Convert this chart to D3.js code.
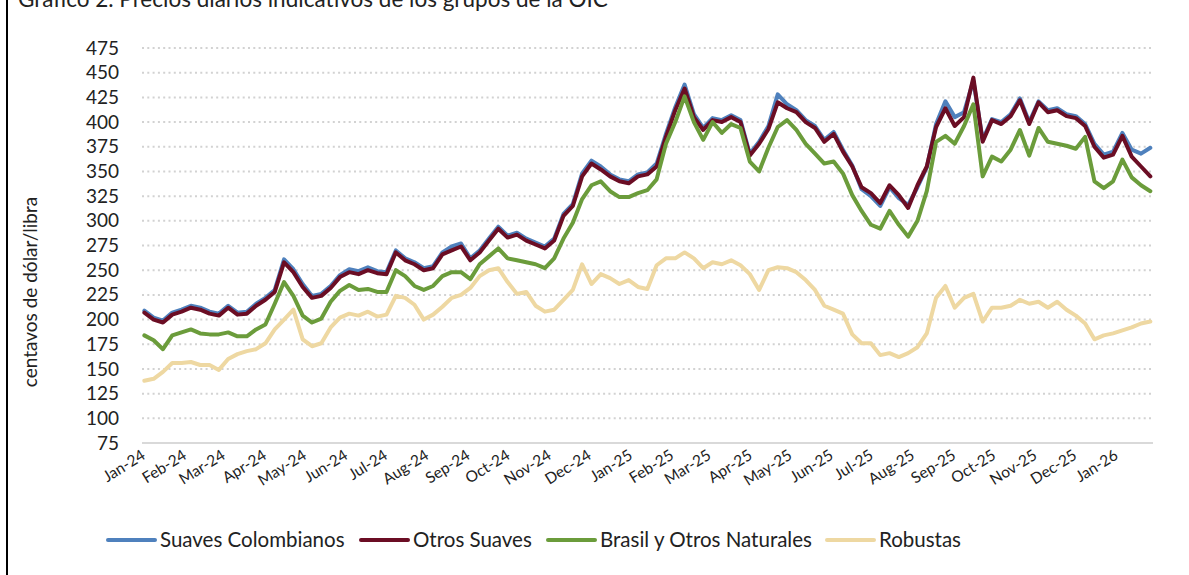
<!DOCTYPE html>
<html>
<head>
<meta charset="utf-8">
<script src="https://cdn.jsdelivr.net/npm/d3@7"></script>
<style>
  body { margin: 0; background: #fff; }
  svg { display: block; font-family: Lato, 'Open Sans', sans-serif; }
</style>
</head>
<body>
<svg id="canvas" width="1189" height="575"></svg>
<script>
// weekly readings, first one on Jan 2 2024
let startDate = '2024-01-02';
let stepDays = 7;

let suavesColombianos = [
  209, 202, 199, 207, 210, 214, 212, 208, 206, 214, 207, 208, 216, 222, 230, 261, 251, 236, 224, 226,
  234, 245, 251, 249, 253, 249, 248, 270, 262, 258, 252, 254, 268, 274, 277, 262, 270, 282, 294, 285,
  288, 282, 278, 274, 282, 307, 317, 348, 361, 355, 347, 342, 340, 347, 349, 358, 388, 415, 438, 408,
  394, 404, 402, 407, 402, 368, 380, 396, 428, 418, 412, 402, 396, 382, 390, 372, 356, 332, 325, 315,
  334, 323, 316, 334, 354, 398, 421, 405, 410, 442, 382, 403, 400, 408, 424, 400, 421, 412, 414, 408,
  406, 398, 378, 367, 370, 389, 372, 368, 374
];

let otrosSuaves = [
  207, 200, 197, 205, 208, 212, 210, 206, 204, 212, 205, 206, 214, 220, 228, 258, 248, 233, 222, 224,
  232, 243, 248, 246, 250, 247, 246, 268, 260, 256, 250, 252, 266, 270, 274, 260, 268, 280, 292, 283,
  286, 280, 276, 272, 280, 305, 315, 345, 358, 352, 345, 340, 338, 345, 347, 355, 385, 412, 434, 405,
  392, 402, 400, 405, 400, 366, 378, 393, 420, 414, 410, 400, 394, 380, 388, 370, 355, 334, 328, 318,
  336, 326, 313, 336, 355, 395, 414, 396, 405, 445, 380, 402, 398, 406, 422, 398, 420, 410, 412, 406,
  404, 396, 375, 364, 367, 386, 365, 355, 345
];

let brasilOtrosNaturales = [
  184, 179, 170, 184, 187, 190, 186, 185, 185, 187, 183, 183, 190, 195, 216, 238, 224, 204, 197, 201,
  218, 229, 235, 230, 231, 228, 228, 250, 244, 234, 230, 234, 244, 248, 248, 241, 256, 264, 272, 262,
  260, 258, 256, 252, 262, 282, 298, 322, 336, 340, 330, 324, 324, 328, 331, 342, 378, 400, 426, 400,
  382, 400, 389, 398, 394, 360, 350, 374, 395, 402, 392, 378, 368, 358, 360, 348, 326, 310, 296, 292,
  310, 296, 284, 300, 330, 380, 386, 378, 396, 418, 345, 365, 360, 372, 392, 366, 394, 380, 378, 376,
  373, 385, 340, 333, 340, 362, 344, 336, 330
];

let robustas = [
  138, 140, 147, 156, 156, 157, 154, 154, 149, 160, 165, 168, 170, 176, 190, 200, 210, 180, 173, 176,
  192, 202, 206, 204, 208, 203, 205, 224, 222, 215, 200, 205, 213, 222, 225, 232, 244, 250, 252, 238,
  226, 228, 214, 208, 210, 220, 230, 256, 236, 246, 242, 236, 240, 233, 231, 255, 262, 262, 268, 262,
  252, 258, 256, 260, 255, 246, 230, 250, 253, 252, 248, 240, 230, 214, 210, 206, 185, 176, 176, 164,
  166, 162, 166, 172, 186, 222, 234, 212, 222, 226, 198, 212, 212, 214, 220, 216, 218, 212, 218, 210,
  204, 196, 180, 184, 186, 189, 192, 196, 198
];

let seriesNames = ['Suaves Colombianos', 'Otros Suaves', 'Brasil y Otros Naturales', 'Robustas'];
let seriesColors = ['#4f81bd', '#6b0d24', '#6b9c3b', '#eed8a2'];
let yTicks = [75, 100, 125, 150, 175, 200, 225, 250, 275, 300, 325, 350, 375, 400, 425, 450, 475];
let titleText = 'Gráfico 2. Precios diarios indicativos de los grupos de la OIC';
let yTitle = 'centavos de dólar/libra';

let canvas = d3.select('#canvas');

let parseDate = d3.timeParse('%Y-%m-%d');
let dates = robustas.map((v, i) => d3.timeDay.offset(parseDate(startDate), i * stepDays));

let xScale = d3.scaleTime()
  .domain([new Date(2024, 0, 1), new Date(2026, 0, 29)])
  .range([143, 1153]);

let yScale = d3.scaleLinear()
  .domain([75, 475])
  .range([443, 48]);

// frame line on the left and the title, cut at the top like the source
canvas.append('line')
  .attr('x1', 7).attr('x2', 7).attr('y1', 0).attr('y2', 575)
  .attr('stroke', '#000').attr('stroke-width', 2);

canvas.append('text')
  .attr('x', 18).attr('y', 6.5)
  .attr('font-size', 22.5).attr('fill', '#222')
  .text(titleText);

// grid
canvas.append('g')
  .selectAll('line')
  .data(yTicks.filter((t) => t > 75))
  .enter()
  .append('line')
  .attr('x1', 142).attr('x2', 1153)
  .attr('y1', (t) => yScale(t)).attr('y2', (t) => yScale(t))
  .attr('stroke', '#d2d2d2')
  .attr('stroke-width', 2)
  .attr('stroke-dasharray', '2,3.3');

canvas.append('line')
  .attr('x1', 142).attr('x2', 1153)
  .attr('y1', yScale(75)).attr('y2', yScale(75))
  .attr('stroke', '#d9d9d9').attr('stroke-width', 2);

// y axis
let yAxis = canvas.append('g')
  .attr('transform', 'translate(122,0)')
  .call(d3.axisLeft(yScale).tickValues(yTicks).tickSize(0).tickPadding(3));
yAxis.select('.domain').remove();
yAxis.selectAll('text')
  .attr('font-family', 'Lato, sans-serif')
  .attr('font-size', 19)
  .attr('fill', '#222');

canvas.append('text')
  .attr('transform', 'translate(37,292) rotate(-90)')
  .attr('text-anchor', 'middle')
  .attr('font-size', 19)
  .attr('fill', '#222')
  .text(yTitle);

// x axis
let xAxis = canvas.append('g')
  .attr('transform', 'translate(0,' + 443 + ')')
  .call(d3.axisBottom(xScale)
    .tickValues(d3.timeMonth.range(new Date(2024, 0, 1), new Date(2026, 1, 1)))
    .tickFormat(d3.timeFormat('%b-%y'))
    .tickSize(0));
xAxis.select('.domain').remove();
xAxis.selectAll('text')
  .attr('font-family', 'Lato, sans-serif')
  .attr('font-size', 15.5)
  .attr('fill', '#222')
  .attr('text-anchor', 'end')
  .attr('dy', 0)
  .attr('y', 0)
  .attr('transform', 'translate(3,15) rotate(-32)');

// lines
let allSeries = [suavesColombianos, otrosSuaves, brasilOtrosNaturales, robustas];

let line = d3.line()
  .x((d) => xScale(d.date))
  .y((d) => yScale(d.value))
  .curve(d3.curveLinear);

canvas.append('g')
  .selectAll('path')
  .data(allSeries)
  .enter()
  .append('path')
  .attr('d', (values) => line(values.map((v, i) => ({ date: dates[i], value: v }))))
  .attr('fill', 'none')
  .attr('stroke', (values, i) => seriesColors[i])
  .attr('stroke-width', 4)
  .attr('stroke-linejoin', 'round')
  .attr('stroke-linecap', 'round');

// legend
let legendX = [108, 361, 548, 827];
let legend = canvas.append('g')
  .selectAll('g')
  .data(seriesNames)
  .enter()
  .append('g')
  .attr('transform', (name, i) => 'translate(' + legendX[i] + ', 540)');

legend.append('line')
  .attr('x1', 0).attr('x2', 47)
  .attr('stroke', (name, i) => seriesColors[i])
  .attr('stroke-width', 4)
  .attr('stroke-linecap', 'round');

legend.append('text')
  .attr('x', 52)
  .attr('y', 7)
  .attr('font-size', 20.5)
  .attr('fill', '#222')
  .text((name) => name);
</script>
</body>
</html>
